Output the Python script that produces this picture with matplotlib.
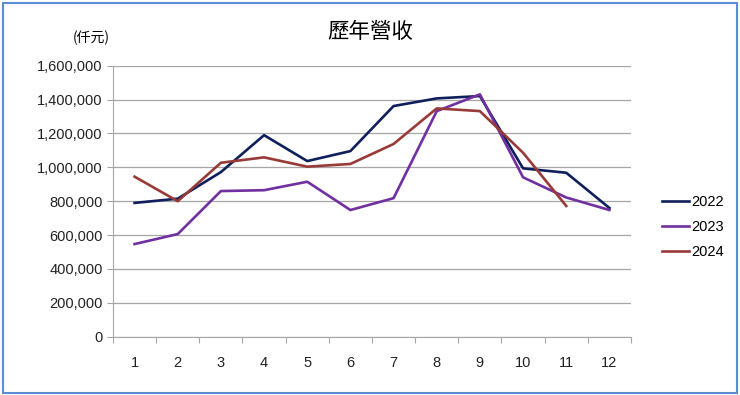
import matplotlib

matplotlib.use("Agg")

import matplotlib.pyplot as plt
from matplotlib.patches import Rectangle
from matplotlib.ticker import FuncFormatter, FixedLocator


months = list(range(1, 13))
years = ["2022", "2023", "2024"]
rev_2022 = [790000, 815000, 972000, 1190000, 1037000, 1096000, 1362000, 1407000, 1421000, 994000, 968000, 760000]
rev_2023 = [547000, 606000, 860000, 865000, 915000, 748000, 818000, 1332000, 1431000, 941000, 822000, 748000]
rev_2024 = [945000, 800000, 1027000, 1059000, 1004000, 1020000, 1138000, 1348000, 1332000, 1086000, 772000]
colors = ["#0e1f5b", "#7030a0", "#983a37"]

plt.rcParams["font.family"] = ["Liberation Sans", "Noto Sans CJK TC", "DejaVu Sans"]

fig = plt.figure(figsize=(7.4, 3.95), dpi=100)
ax = fig.add_axes([0.1527, 0.1476, 0.700, 0.686])

series = [rev_2022, rev_2023, rev_2024]
for name, values, color in zip(years, series, colors):
    ax.plot(months[:len(values)], values, color=color, linewidth=1.9, label=name)

ax.set_xlim(0.5, 12.5)
ax.set_ylim(0, 1600000)
ax.set_yticks(range(0, 1600001, 200000))
ax.yaxis.set_major_formatter(FuncFormatter(lambda v, _: f"{int(v):,}"))
ax.grid(axis="y", color="#a6a6a6", linewidth=0.9)
ax.set_axisbelow(True)

# category boundaries carry the tick marks, labels sit at the centres
ax.xaxis.set_major_locator(FixedLocator([m - 0.5 for m in months] + [12.5]))
ax.xaxis.set_minor_locator(FixedLocator(months))
ax.xaxis.set_major_formatter(FuncFormatter(lambda v, _: ""))
ax.set_xticklabels([str(m) for m in months], minor=True)
ax.tick_params(axis="x", which="major", length=4, color="#a6a6a6", direction="out")
ax.tick_params(axis="x", which="minor", length=0, pad=14, labelsize=10.5, labelcolor="#222222")
ax.tick_params(axis="y", length=4, color="#a6a6a6", labelsize=10.5, labelcolor="#222222")

for side in ("top", "right"):
    ax.spines[side].set_visible(False)
for side in ("left", "bottom"):
    ax.spines[side].set_color("#a6a6a6")

fig.text(0.5, 0.918, "歷年營收", ha="center", va="center", fontsize=15.5,
         family=["Noto Sans CJK TC", "DejaVu Sans"])
fig.text(0.123, 0.904, "(仟元)", ha="center", va="center", fontsize=10,
         family=["Noto Sans CJK TC", "DejaVu Sans"])

ax.legend(loc="center left", bbox_to_anchor=(1.035, 0.405), frameon=False,
          fontsize=10.5, handlelength=1.8, handletextpad=0.2, labelspacing=0.75)

fig.patches.append(Rectangle((0.004, 0.006), 0.992, 0.987, transform=fig.transFigure,
                             fill=False, edgecolor="#5a8dd3", linewidth=1.5))

fig.savefig("out.png", dpi=100)
